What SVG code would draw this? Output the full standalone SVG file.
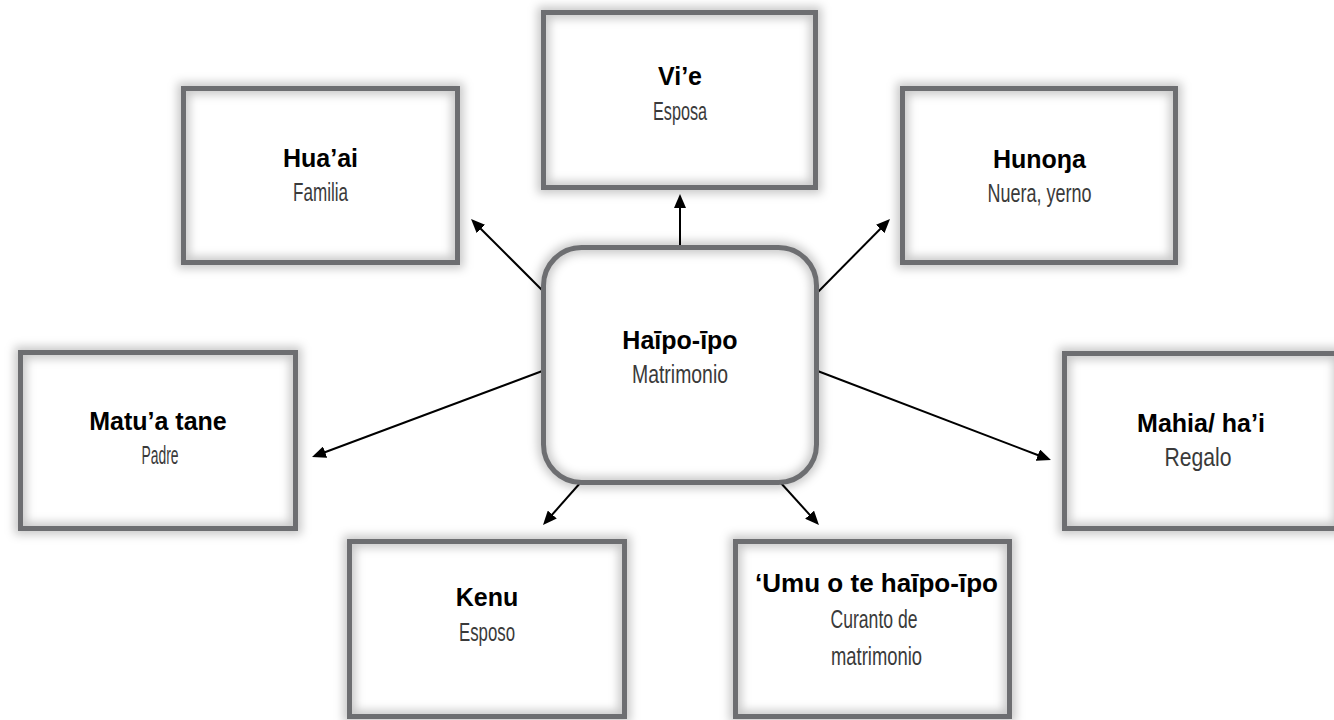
<svg xmlns="http://www.w3.org/2000/svg" width="1334" height="720" viewBox="0 0 1334 720">
<style>
.bg{fill:#fff;stroke:none}
.glow{fill:none;stroke:#000;stroke-opacity:0.22;stroke-width:12;filter:url(#blur)}
.frame{fill:none;stroke:#6d6e71;stroke-width:5}
.t{font-family:"Liberation Sans",Arial,sans-serif;font-weight:bold;font-size:25px;fill:#000;text-anchor:middle}
.s{font-family:"Liberation Sans",Arial,sans-serif;font-size:25px;fill:#3a3a3a;text-anchor:middle}
.c{fill:none;stroke:#000;stroke-width:2;marker-end:url(#ah)}
</style>
<defs>
<filter id="blur" x="-15%" y="-15%" width="130%" height="130%">
<feGaussianBlur stdDeviation="5"/>
</filter>
<marker id="ah" markerUnits="userSpaceOnUse" markerWidth="14" markerHeight="12" refX="6" refY="6" orient="auto" viewBox="0 0 14 12">
<path d="M0,0 L14,6 L0,12 z" fill="#000"/>
</marker>
</defs>
<g id="connectors">
<line class="c" x1="545" y1="293" x2="476.7" y2="224.7"/>
<line class="c" x1="680" y1="250" x2="680" y2="202"/>
<line class="c" x1="815" y1="295" x2="884.4" y2="224.7"/>
<line class="c" x1="545" y1="370" x2="319.5" y2="454.2"/>
<line class="c" x1="815" y1="370" x2="1043.5" y2="457.2"/>
<line class="c" x1="581" y1="482" x2="548.3" y2="519"/>
<line class="c" x1="780" y1="482" x2="813.6" y2="519.1"/>
</g>
<g id="node-center">
<rect class="bg" x="543.5" y="247.5" width="273" height="235" rx="38"/>
<rect class="glow" x="543.5" y="247.5" width="273" height="235" rx="38"/>
<rect class="frame" x="543.5" y="247.5" width="273" height="235" rx="38"/>
<text class="t" x="680" y="349">Haīpo-īpo</text>
<text class="s" x="680" y="383" textLength="96" lengthAdjust="spacingAndGlyphs">Matrimonio</text>
</g>
<g id="node-vie">
<rect class="bg" x="543.5" y="12.5" width="272" height="175"/>
<rect class="glow" x="543.5" y="12.5" width="272" height="175"/>
<rect class="frame" x="543.5" y="12.5" width="272" height="175"/>
<text class="t" x="680" y="85">Vi’e</text>
<text class="s" x="680" y="120" textLength="54" lengthAdjust="spacingAndGlyphs">Esposa</text>
</g>
<g id="node-huaai">
<rect class="bg" x="183.5" y="88.5" width="274" height="174"/>
<rect class="glow" x="183.5" y="88.5" width="274" height="174"/>
<rect class="frame" x="183.5" y="88.5" width="274" height="174"/>
<text class="t" x="320.5" y="167">Hua’ai</text>
<text class="s" x="320.5" y="201" textLength="55" lengthAdjust="spacingAndGlyphs">Familia</text>
</g>
<g id="node-hunona">
<rect class="bg" x="902.5" y="88.5" width="273" height="174"/>
<rect class="glow" x="902.5" y="88.5" width="273" height="174"/>
<rect class="frame" x="902.5" y="88.5" width="273" height="174"/>
<text class="t" x="1039.5" y="168">Hunoŋa</text>
<text class="s" x="1039.5" y="202" textLength="104" lengthAdjust="spacingAndGlyphs">Nuera, yerno</text>
</g>
<g id="node-matua">
<rect class="bg" x="20.5" y="352.5" width="275" height="176"/>
<rect class="glow" x="20.5" y="352.5" width="275" height="176"/>
<rect class="frame" x="20.5" y="352.5" width="275" height="176"/>
<text class="t" x="158" y="430">Matu’a tane</text>
<text class="s" x="160" y="464" textLength="37" lengthAdjust="spacingAndGlyphs">Padre</text>
</g>
<g id="node-mahia">
<rect class="bg" x="1064.5" y="353.5" width="275" height="175"/>
<rect class="glow" x="1064.5" y="353.5" width="275" height="175"/>
<rect class="frame" x="1064.5" y="353.5" width="275" height="175"/>
<text class="t" x="1201" y="432">Mahia/ ha’i</text>
<text class="s" x="1198" y="466" textLength="67" lengthAdjust="spacingAndGlyphs">Regalo</text>
</g>
<g id="node-kenu">
<rect class="bg" x="349.5" y="541.5" width="275" height="175"/>
<rect class="glow" x="349.5" y="541.5" width="275" height="175"/>
<rect class="frame" x="349.5" y="541.5" width="275" height="175"/>
<text class="t" x="487" y="606">Kenu</text>
<text class="s" x="487" y="641" textLength="56" lengthAdjust="spacingAndGlyphs">Esposo</text>
</g>
<g id="node-umu">
<rect class="bg" x="735.5" y="541.5" width="274" height="175"/>
<rect class="glow" x="735.5" y="541.5" width="274" height="175"/>
<rect class="frame" x="735.5" y="541.5" width="274" height="175"/>
<text class="t" x="876.5" y="592" textLength="243" lengthAdjust="spacingAndGlyphs">‘Umu o te haīpo-īpo</text>
<text class="s" x="874" y="628" textLength="87" lengthAdjust="spacingAndGlyphs">Curanto de</text>
<text class="s" x="876.5" y="665" textLength="91" lengthAdjust="spacingAndGlyphs">matrimonio</text>
</g>
</svg>
